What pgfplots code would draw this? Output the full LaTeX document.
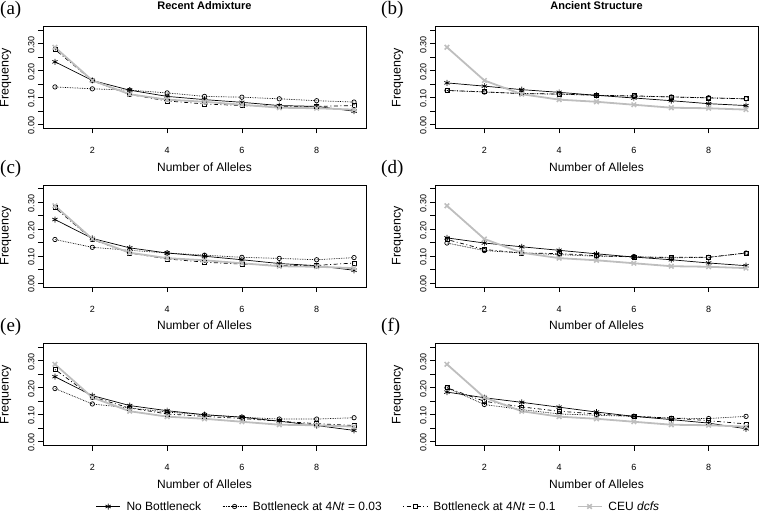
\documentclass[border=0pt]{standalone}
\usepackage{pgfplots}
\pgfplotsset{compat=1.18}
\usepackage{pgfplotstable}
\usepackage{fontspec}
\setmainfont{Liberation Sans}
\newfontfamily\seriffont{Liberation Serif}
\definecolor{ceugray}{RGB}{190,190,190}

\pgfplotstableread{
x nb b03 b01 ceu
1 0.233 0.140 0.279 0.287
2 0.164 0.133 0.163 0.164
3 0.128 0.128 0.112 0.113
4 0.105 0.118 0.088 0.093
5 0.093 0.105 0.077 0.085
6 0.083 0.102 0.071 0.074
7 0.071 0.096 0.068 0.063
8 0.068 0.089 0.068 0.061
9 0.050 0.084 0.071 0.056
}\tA
\pgfplotstableread{
x nb b03 b01 ceu
1 0.155 0.127 0.127 0.287
2 0.143 0.121 0.122 0.164
3 0.130 0.116 0.115 0.113
4 0.120 0.113 0.114 0.093
5 0.109 0.109 0.109 0.085
6 0.099 0.106 0.107 0.074
7 0.089 0.103 0.103 0.063
8 0.078 0.100 0.099 0.061
9 0.071 0.096 0.096 0.056
}\tB
\pgfplotstableread{
x nb b03 b01 ceu
1 0.236 0.162 0.280 0.287
2 0.166 0.133 0.162 0.164
3 0.131 0.122 0.112 0.113
4 0.112 0.112 0.090 0.093
5 0.100 0.104 0.078 0.085
6 0.087 0.096 0.071 0.074
7 0.073 0.092 0.066 0.063
8 0.065 0.087 0.066 0.061
9 0.048 0.095 0.075 0.056
}\tC
\pgfplotstableread{
x nb b03 b01 ceu
1 0.168 0.149 0.162 0.287
2 0.149 0.121 0.125 0.164
3 0.135 0.112 0.112 0.113
4 0.122 0.106 0.110 0.093
5 0.109 0.100 0.102 0.085
6 0.097 0.099 0.097 0.074
7 0.087 0.094 0.096 0.063
8 0.075 0.096 0.096 0.061
9 0.065 0.112 0.112 0.056
}\tD
\pgfplotstableread{
x nb b03 b01 ceu
1 0.241 0.197 0.268 0.287
2 0.171 0.140 0.166 0.164
3 0.134 0.125 0.125 0.113
4 0.115 0.110 0.103 0.093
5 0.100 0.100 0.094 0.085
6 0.091 0.091 0.086 0.074
7 0.076 0.084 0.076 0.063
8 0.060 0.084 0.067 0.061
9 0.042 0.089 0.060 0.056
}\tE
\pgfplotstableread{
x nb b03 b01 ceu
1 0.184 0.200 0.200 0.287
2 0.163 0.138 0.150 0.164
3 0.146 0.119 0.129 0.113
4 0.128 0.103 0.113 0.093
5 0.110 0.098 0.103 0.085
6 0.094 0.094 0.094 0.074
7 0.082 0.087 0.088 0.063
8 0.069 0.086 0.078 0.061
9 0.048 0.094 0.066 0.056
}\tF

\pgfplotsset{
  every axis title/.style={at={(0.5,1.165)}, anchor=south, inner sep=0pt,
    font=\bfseries\fontsize{11}{12}\selectfont},
  panel/.style={
    scale only axis, width=323pt, height=102pt,
    xmin=0.68, xmax=9.32, ymin=-0.014, ymax=0.364,
    xtick={2,4,6,8}, xticklabels={2,4,6,8},
    ytick={0,0.05,0.1,0.15,0.2,0.25,0.3,0.35},
    yticklabels={0.00,,0.10,,0.20,,0.30,},
    tick align=outside, xtick pos=left, ytick pos=left,
    major tick length=5pt,
    tick style={black, line width=0.6pt},
    axis line style={line width=0.6pt},
    ticklabel style={font=\fontsize{9}{10}\selectfont},
    xticklabel style={yshift=-10.5pt},
    yticklabel style={rotate=90, anchor=south, xshift=-1pt},
    xlabel={Number of Alleles}, ylabel={Frequency},
    xlabel style={font=\fontsize{12}{14}\selectfont, at={(axis description cs:0.5,-0.3775)}, anchor=center},
    ylabel style={font=\fontsize{12.5}{14}\selectfont, at={(axis description cs:-0.116,0.5)}, anchor=center},
    clip=false,
  },
  nbst/.style={black, line width=0.7pt, solid, mark=asterisk, mark size=3pt},
  b03st/.style={black, line width=0.7pt, densely dotted, mark=o, mark size=2.2pt, mark options={solid}},
  b01st/.style={black, line width=0.7pt, dash pattern=on 1pt off 2.5pt on 4pt off 2.5pt, mark=square, mark size=2pt, mark options={solid}},
  ceust/.style={ceugray, line width=1.8pt, mark=x, mark size=3.2pt, mark options={solid, line width=1.5pt}},
}

\begin{document}
\begin{tikzpicture}
\useasboundingbox (0pt,0pt) rectangle (759pt,-513pt);

% (a)
\begin{axis}[panel, at={(43pt,-26.5pt)}, anchor=north west, title={Recent Admixture}]
\addplot[nbst] table[x=x,y=nb]{\tA};
\addplot[b03st] table[x=x,y=b03]{\tA};
\addplot[b01st] table[x=x,y=b01]{\tA};
\addplot[ceust] table[x=x,y=ceu]{\tA};
\end{axis}
% (b)
\begin{axis}[panel, at={(435pt,-26.5pt)}, anchor=north west, title={Ancient Structure}]
\addplot[nbst] table[x=x,y=nb]{\tB};
\addplot[b03st] table[x=x,y=b03]{\tB};
\addplot[b01st] table[x=x,y=b01]{\tB};
\addplot[ceust] table[x=x,y=ceu]{\tB};
\end{axis}
% (c)
\begin{axis}[panel, at={(43pt,-185pt)}, anchor=north west]
\addplot[nbst] table[x=x,y=nb]{\tC};
\addplot[b03st] table[x=x,y=b03]{\tC};
\addplot[b01st] table[x=x,y=b01]{\tC};
\addplot[ceust] table[x=x,y=ceu]{\tC};
\end{axis}
% (d)
\begin{axis}[panel, at={(435pt,-185pt)}, anchor=north west]
\addplot[nbst] table[x=x,y=nb]{\tD};
\addplot[b03st] table[x=x,y=b03]{\tD};
\addplot[b01st] table[x=x,y=b01]{\tD};
\addplot[ceust] table[x=x,y=ceu]{\tD};
\end{axis}
% (e)
\begin{axis}[panel, at={(43pt,-343.5pt)}, anchor=north west,
  legend columns=4,
  legend style={draw=none, fill=none, font=\fontsize{12}{14}\selectfont,
    at={(axis description cs:1.0386,-0.598)}, anchor=center,
    /tikz/every even column/.append style={column sep=19pt},
    /tikz/every odd column/.append style={column sep=4pt}},
  legend cell align=left,
  legend image code/.code={\draw[mark repeat=2,mark phase=2,#1] plot coordinates {(0pt,0pt) (12pt,0pt) (24pt,0pt)};},
]
\addplot[nbst] table[x=x,y=nb]{\tE};
\addlegendentry{No Bottleneck}
\addplot[b03st] table[x=x,y=b03]{\tE};
\addlegendentry{Bottleneck at 4\textit{Nt} = 0.03}
\addplot[b01st] table[x=x,y=b01]{\tE};
\addlegendentry{Bottleneck at 4\textit{Nt} = 0.1}
\addplot[ceust] table[x=x,y=ceu]{\tE};
\addlegendentry{CEU \textit{dcfs}}
\end{axis}
% (f)
\begin{axis}[panel, at={(435pt,-343.5pt)}, anchor=north west]
\addplot[nbst] table[x=x,y=nb]{\tF};
\addplot[b03st] table[x=x,y=b03]{\tF};
\addplot[b01st] table[x=x,y=b01]{\tF};
\addplot[ceust] table[x=x,y=ceu]{\tF};
\end{axis}

\node[font=\seriffont\fontsize{19}{21}\selectfont, anchor=west, inner sep=0pt] at (0pt,-10pt) {(a)};
\node[font=\seriffont\fontsize{19}{21}\selectfont, anchor=west, inner sep=0pt] at (381pt,-10pt) {(b)};
\node[font=\seriffont\fontsize{19}{21}\selectfont, anchor=west, inner sep=0pt] at (0pt,-168.5pt) {(c)};
\node[font=\seriffont\fontsize{19}{21}\selectfont, anchor=west, inner sep=0pt] at (381pt,-168.5pt) {(d)};
\node[font=\seriffont\fontsize{19}{21}\selectfont, anchor=west, inner sep=0pt] at (0pt,-327pt) {(e)};
\node[font=\seriffont\fontsize{19}{21}\selectfont, anchor=west, inner sep=0pt] at (381pt,-327pt) {(f)};
\end{tikzpicture}
\end{document}
